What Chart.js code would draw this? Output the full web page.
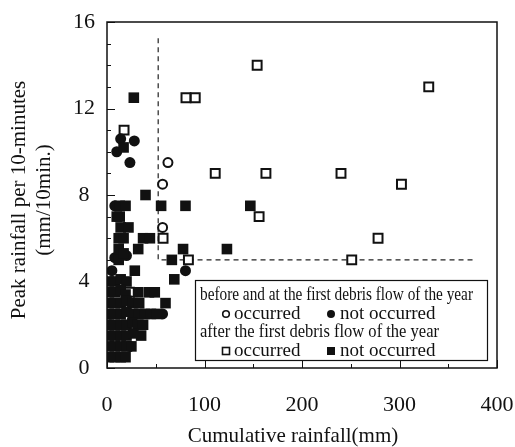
<!DOCTYPE html>
<html><head><meta charset="utf-8">
<script src="https://cdn.jsdelivr.net/npm/chart.js@4/dist/chart.umd.min.js"></script>
<style>html,body{margin:0;padding:0;background:#fff}#wrap{width:515px;height:447px}</style>
</head><body><div id="wrap"><canvas id="c" width="515" height="447"></canvas></div>
<script>
const xTickValues = [0, 100, 200, 300, 400];
const yTickValues = [0, 4, 8, 12, 16];
const xMinorTicks = [50, 150, 250, 350];
const yMinorTicks = [1, 2, 3, 5, 6, 7, 9, 10, 11, 13, 14, 15];

// before and at the first debris flow of the year
const beforeOccurred = [[62.5,9.5],[57,8.5],[57,6.5]];
const beforeNotOccurred = [[28,10.5],[10,10.0],[14,10.6],[23.5,9.5],[8,7.5],[8,5.1],[80.5,4.5],[57,2.5],[23.5,1.0],[5,4.5],[3,2.0],[20,5.2]];
// after the first debris flow of the year
const afterOccurred = [[154,14.0],[81,12.5],[90.5,12.5],[330,13.0],[17.5,11.0],[111,9.0],[163,9.0],[240,9.0],[302,8.5],[156,7.0],[57.5,6.0],[278,6.0],[83.5,5.0],[251,5.0],[23,3.5]];
const afterNotOccurred = [[27.5,12.5],[17,10.2],[39.5,8.0],[55.5,7.5],[80.5,7.5],[147,7.5],[13,7.5],[19,7.5],[13,7.0],[10,7.0],[14,6.5],[22,6.5],[12,6.0],[17,6.0],[37,6.0],[44,6.0],[32,5.5],[78,5.5],[123,5.5],[12,5.5],[66.5,5.0],[12,5.0],[17,5.3],[28.5,4.5],[69,4.1],
[2,4.0],[8,4.0],[14,4.1],[20,4.0],
[2,3.5],[8,3.5],[14,3.6],[19,3.4],[32,3.5],[43,3.5],[49,3.5],
[2,3.0],[8,3.0],[14,3.0],[20,3.1],[26,3.0],[33,3.0],[60,3.0],
[2,2.5],[8,2.5],[14,2.5],[20,2.6],[27,2.5],[33,2.5],[39,2.5],[45,2.5],[51,2.5],
[2,2.0],[8,2.0],[14,2.0],[20,2.0],[26,2.1],[32,2.0],[37,2.0],
[2,1.5],[8,1.5],[14,1.5],[20,1.5],[27,1.6],[35,1.5],
[2,1.0],[8,1.0],[14,1.0],[20,1.0],[25,1.0],
[2,0.5],[8,0.5],[14,0.5],[19,0.5]];
// threshold (dashed) line
const thresholdLine = [[52.5,15.25],[52.5,5],[375,5]];

const xTitle = 'Cumulative rainfall(mm)';
const yTitle = ['Peak rainfall per 10-minutes', '(mm/10min.)'];
const legendTitle1 = 'before and at the first debris flow of the year';
const legendTitle2 = 'after the first debris flow of the year';
const labelOccurred = 'occurred';
const labelNotOccurred = 'not occurred';

const toXY = a => a.map(p => ({x: p[0], y: p[1]}));
const INK = '#111';
const FONT = "'Liberation Serif', 'Times New Roman', serif";
const TARGET = { left: 107, right: 497, top: 22, bottom: 368 };

const framePlugin = {
  id: 'frame',
  afterDatasetsDraw(chart) {
    const ctx = chart.ctx, a = chart.chartArea, xs = chart.scales.x, ys = chart.scales.y;
    ctx.save();
    ctx.strokeStyle = INK; ctx.lineWidth = 1.5;
    ctx.strokeRect(a.left, a.top, a.right - a.left, a.bottom - a.top);
    ctx.lineWidth = 1;
    const tickX = (v, len) => { const px = Math.round(xs.getPixelForValue(v)) + 0.5; ctx.beginPath(); ctx.moveTo(px, a.bottom); ctx.lineTo(px, a.bottom - len); ctx.stroke(); };
    const tickY = (v, len) => { const py = Math.round(ys.getPixelForValue(v)) + 0.5; ctx.beginPath(); ctx.moveTo(a.left, py); ctx.lineTo(a.left + len, py); ctx.stroke(); };
    xTickValues.forEach(v => tickX(v, 8)); xMinorTicks.forEach(v => tickX(v, 4));
    yTickValues.forEach(v => tickY(v, 8)); yMinorTicks.forEach(v => tickY(v, 4));

    // axis titles
    ctx.fillStyle = INK; ctx.textAlign = 'center'; ctx.textBaseline = 'middle';
    ctx.font = '21px ' + FONT;
    ctx.fillText(xTitle, a.left + 186, 436);
    ctx.save();
    ctx.translate(19, 200); ctx.rotate(-Math.PI / 2);
    ctx.fillText(yTitle[0], 0, 0);
    ctx.fillText(yTitle[1], 0, 25);
    ctx.restore();

    // legend box
    const bx = a.left + 88, by = a.top + 258, bw = 292, bh = 80;
    ctx.fillStyle = '#fff'; ctx.fillRect(bx, by, bw, bh);
    ctx.strokeStyle = INK; ctx.lineWidth = 1.2; ctx.strokeRect(bx + 0.5, by + 0.5, bw, bh);
    ctx.fillStyle = INK; ctx.textBaseline = 'middle'; ctx.textAlign = 'left';
    ctx.font = '18px ' + FONT;
    const r1 = by + 15, r2 = by + 33, r3 = by + 52, r4 = by + 70;
    ctx.fillText(legendTitle1, bx + 5, r1, 273);
    ctx.fillText(legendTitle2, bx + 5, r3, 239);
    ctx.font = '19px ' + FONT;
    ctx.fillText(labelOccurred, bx + 39, r2 + 1, 67);
    ctx.fillText(labelNotOccurred, bx + 145, r2 + 1, 96);
    ctx.fillText(labelOccurred, bx + 39, r4 + 1, 67);
    ctx.fillText(labelNotOccurred, bx + 145, r4 + 1, 96);
    // markers
    ctx.lineWidth = 1.6;
    ctx.beginPath(); ctx.arc(bx + 31, r2 + 1, 3.3, 0, Math.PI * 2); ctx.stroke();
    ctx.beginPath(); ctx.arc(bx + 136, r2 + 1, 4, 0, Math.PI * 2); ctx.fill();
    ctx.strokeRect(bx + 27.5, r4 - 2.5, 7, 7);
    ctx.fillRect(bx + 132, r4 - 3, 8, 8);
    ctx.restore();
  }
};

const chart = new Chart(document.getElementById('c'), {
  type: 'scatter',
  data: {
    datasets: [
      { label: 'after, not occurred', data: toXY(afterNotOccurred), pointStyle: 'rect', pointRadius: 7.5, backgroundColor: INK, borderColor: INK, borderWidth: 0 },
      { label: 'before, not occurred', data: toXY(beforeNotOccurred), pointStyle: 'circle', pointRadius: 5.5, backgroundColor: INK, borderColor: INK, borderWidth: 0 },
      { label: 'after, occurred', data: toXY(afterOccurred), pointStyle: 'rect', pointRadius: 6.3, backgroundColor: '#fff', borderColor: INK, borderWidth: 2 },
      { label: 'before, occurred', data: toXY(beforeOccurred), pointStyle: 'circle', pointRadius: 4.5, backgroundColor: '#fff', borderColor: INK, borderWidth: 2 },
      { type: 'line', label: 'threshold', data: toXY(thresholdLine), showLine: true, pointRadius: 0, borderColor: '#222', borderWidth: 1.2, borderDash: [5, 4], fill: false, tension: 0 }
    ]
  },
  options: {
    responsive: false, animation: false,
    layout: { padding: { top: 22, right: 18, left: 0, bottom: 0 } },
    plugins: { legend: { display: false }, tooltip: { enabled: false } },
    scales: {
      x: {
        type: 'linear', min: 0, max: 400,
        afterFit(s) { s.height = 79; s.paddingLeft = 0; s.paddingRight = 0; },
        grid: { display: false, drawTicks: false }, border: { display: false },
        ticks: { stepSize: 100, padding: 24, color: INK, font: { family: FONT, size: 22 } },
        title: { display: false }
      },
      y: {
        type: 'linear', min: 0, max: 16,
        afterFit(s) { s.width = 107; s.paddingTop = 0; s.paddingBottom = 0; },
        grid: { display: false, drawTicks: false }, border: { display: false },
        ticks: { stepSize: 4, padding: 12, crossAlign: 'center', color: INK, font: { family: FONT, size: 22 } },
        title: { display: false }
      }
    }
  },
  plugins: [framePlugin]
});

// nudge layout padding so the plot frame lands where the reference has it
for (let i = 0; i < 3; i++) {
  const ca = chart.chartArea, p = chart.options.layout.padding;
  p.top = Math.max(0, p.top + (TARGET.top - ca.top));
  p.right = Math.max(0, p.right + (ca.right - TARGET.right));
  p.left = Math.max(0, p.left + (TARGET.left - ca.left));
  p.bottom = Math.max(0, p.bottom + (ca.bottom - TARGET.bottom));
  chart.update();
}
</script>
</body></html>
